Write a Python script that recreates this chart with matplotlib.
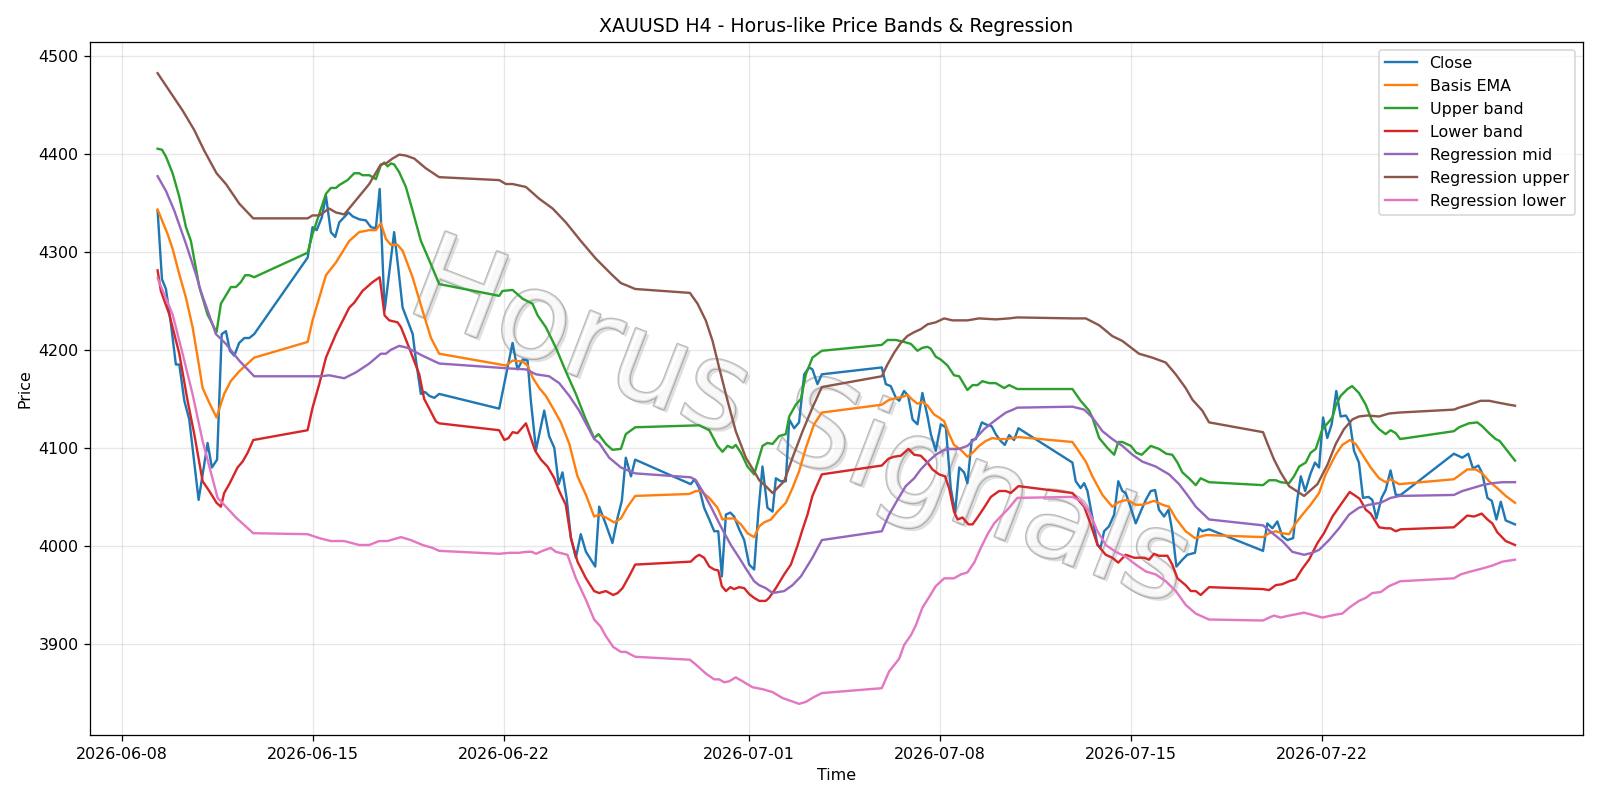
import pandas as pd
import matplotlib.pyplot as plt
import matplotlib.patheffects as pe

START = pd.Timestamp("2026-06-08")

close_days = [1.32, 1.48, 1.626, 1.81, 1.99, 2.115, 2.3, 2.48, 2.823, 3.153, 3.31, 3.5, 3.67, 3.825, 3.97, 4.13,
              4.31, 4.5, 4.68, 4.86, 6.82, 7.0, 7.15, 7.34, 7.49, 7.67, 7.83, 7.98, 8.32, 8.47, 8.71, 8.95,
              9.14, 9.32, 9.46, 9.64, 9.99, 10.15, 10.3, 10.48, 10.67, 10.79, 10.97, 11.12, 11.28, 11.46, 11.64,
              13.84, 14.33, 14.51, 14.7, 14.88, 15.0, 15.19, 15.49, 15.67, 15.86, 16.02, 16.16, 16.31, 16.47,
              16.65, 16.83, 17.02, 17.36, 17.505, 17.75, 17.99, 18.18, 18.335, 18.48, 18.67, 18.824, 20.86,
              21.0, 21.17, 21.35, 21.54, 21.72, 21.87, 22.0, 22.15, 22.31, 22.45, 22.635, 22.82, 23.0, 23.185,
              23.34, 23.49, 23.67, 23.86, 23.98, 24.16, 24.345, 24.47, 24.65, 24.83, 25.02, 25.2, 25.32, 25.505,
              25.665, 27.863, 28.01, 28.19, 28.38, 28.5, 28.68, 28.83, 28.99, 29.17, 29.35, 29.54, 29.66, 29.84,
              30.025, 30.21, 30.39, 30.55, 30.7, 30.88, 31.0, 31.16, 31.31, 31.53, 31.67, 31.89, 32.04, 32.22,
              32.37, 32.53, 32.71, 32.87, 34.85, 34.97, 35.15, 35.28, 35.4, 35.58, 35.77, 35.89, 36.01, 36.19,
              36.38, 36.53, 36.68, 36.8, 36.95, 37.17, 37.35, 37.54, 37.72, 37.88, 38.02, 38.21, 38.37, 38.51,
              38.66, 38.88, 39.06, 39.34, 39.49, 39.61, 39.857, 41.836, 41.99, 42.18, 42.36, 42.54, 42.73, 42.94,
              43.09, 43.22, 43.38, 43.58, 43.74, 43.89, 44.035, 44.19, 44.35, 44.52, 44.68, 44.87, 45.02, 45.17,
              45.35, 45.5, 45.7, 45.84, 45.99, 46.18, 46.33, 46.51, 46.7, 46.88, 48.83, 49.14, 49.36, 49.53,
              49.73, 49.87, 50.06, 50.22, 50.39, 50.55, 50.73, 51.07]
close_vals = [4342, 4272, 4262, 4226, 4185, 4185, 4148, 4129, 4047, 4105, 4080, 4088, 4216, 4219, 4199, 4194,
              4207, 4212, 4212, 4216, 4294, 4325, 4322, 4335, 4357, 4320, 4315, 4330, 4340, 4336, 4333, 4332,
              4325, 4324, 4364, 4240, 4320, 4281, 4243, 4230, 4216, 4189, 4155, 4157, 4153, 4151, 4155,
              4140, 4207, 4180, 4190, 4189, 4148, 4098, 4138, 4112, 4100, 4063, 4075, 4049, 4008,
              3988, 4012, 3994, 3979, 4040, 4022, 4003, 4029, 4046, 4090, 4071, 4088, 4063,
              4068, 4059, 4039, 4027, 4015, 4015, 3969, 4032, 4034, 4030, 4017, 4006, 3981, 3976,
              4035, 4081, 4039, 4035, 4069, 4066, 4066, 4129, 4120, 4126, 4175, 4182, 4180, 4165,
              4175, 4182, 4165, 4163, 4151, 4148, 4158, 4153, 4129, 4124, 4156, 4132, 4114, 4097,
              4124, 4121, 4059, 4034, 4080, 4075, 4064, 4108, 4109, 4126, 4124, 4122, 4114, 4107,
              4103, 4113, 4108, 4120, 4085, 4066, 4059, 4064, 4056, 4029, 4001, 3999, 4015, 4020,
              4032, 4066, 4056, 4054, 4042, 4023, 4035, 4047, 4056, 4057, 4037, 4030, 4037, 4015,
              3979, 3986, 3991, 3993, 4018, 4015, 4017, 3995, 4023, 4018, 4025, 4010, 4006, 4008,
              4047, 4071, 4056, 4074, 4085, 4080, 4131, 4110, 4124, 4158, 4132, 4133, 4126, 4097,
              4085, 4049, 4050, 4047, 4028, 4049, 4057, 4077, 4052, 4052, 4094, 4090, 4094, 4079,
              4082, 4074, 4049, 4046, 4027, 4045, 4026, 4022]

basis_days = [1.32, 1.687, 1.87, 2.115, 2.36, 2.603, 2.79, 2.97, 3.214, 3.48, 3.76, 4.0, 4.31, 4.86, 6.82, 7.0,
              7.49, 7.856, 8.345, 8.71, 9.08, 9.32, 9.5, 9.69, 9.87, 10.115, 10.3, 10.665, 11.03, 11.34, 11.64,
              14.085, 14.33, 14.7, 14.88, 15.06, 15.307, 15.55, 15.8, 16.1, 16.41, 16.71, 17.02, 17.32, 17.505,
              17.75, 18.055, 18.3, 18.545, 18.824, 20.8, 21.05, 21.23, 21.54, 21.84, 22.025, 22.21, 22.45, 22.7,
              22.94, 23.185, 23.37, 23.55, 23.8, 24.04, 24.345, 24.59, 24.83, 25.08, 25.38, 25.665, 27.863,
              28.13, 28.44, 28.62, 28.8, 28.99, 29.17, 29.35, 29.54, 29.78, 29.96, 30.15, 30.33, 30.51, 30.76,
              31.0, 31.19, 31.43, 31.67, 31.92, 32.16, 32.41, 32.65, 32.87, 34.85, 35.34, 35.58, 35.95, 36.31,
              36.56, 36.86, 37.17, 37.41, 37.84, 38.15, 38.39, 38.64, 39.0, 39.34, 39.73, 39.857, 41.836, 42.06,
              42.3, 42.54, 42.79, 43.03, 43.28, 43.58, 43.89, 44.13, 44.5, 44.74, 45.02, 45.23, 45.48, 45.78,
              46.09, 46.33, 46.51, 46.82, 48.83, 49.08, 49.32, 49.63, 49.87, 50.12, 50.42, 50.73, 51.07]
basis_vals = [4343, 4318, 4303, 4277, 4253, 4223, 4192, 4161, 4146, 4131, 4155, 4168, 4178, 4192, 4208, 4230,
              4276, 4289, 4311, 4320, 4322, 4322, 4329, 4313, 4307, 4307, 4301, 4274, 4240, 4212, 4196,
              4184, 4189, 4188, 4184, 4172, 4161, 4153, 4141, 4126, 4104, 4071, 4052, 4030, 4032,
              4029, 4024, 4028, 4040, 4051, 4053, 4056, 4056, 4049, 4039, 4027, 4028, 4028, 4022,
              4013, 4009, 4020, 4024, 4027, 4035, 4044, 4059, 4076, 4100, 4124, 4136, 4144,
              4149, 4151, 4152, 4154, 4149, 4145, 4147, 4143, 4134, 4131, 4127, 4114, 4103, 4098,
              4091, 4095, 4102, 4107, 4110, 4109, 4109, 4110, 4111, 4106, 4086, 4071, 4052, 4040,
              4045, 4047, 4042, 4042, 4046, 4042, 4040, 4028, 4015, 4008, 4011, 4011, 4009, 4013,
              4015, 4013, 4012, 4023, 4032, 4042, 4054, 4073, 4093, 4103, 4108, 4104, 4093, 4080,
              4069, 4065, 4068, 4063, 4068, 4073, 4078, 4078, 4074, 4066, 4059, 4051, 4044]

upper_days = [1.32, 1.48, 1.626, 1.87, 2.115, 2.36, 2.54, 2.85, 3.15, 3.48, 3.64, 4.008, 4.19, 4.37, 4.53, 4.68,
              4.86, 6.82, 7.0, 7.49, 7.67, 7.855, 7.98, 8.28, 8.527, 8.71, 8.83, 9.08, 9.32, 9.5, 9.63, 9.75,
              9.87, 9.99, 10.176, 10.42, 10.665, 10.97, 11.28, 11.64, 13.84, 13.96, 14.33, 14.7, 15.06, 15.25,
              15.55, 15.92, 16.28, 16.65, 17.0, 17.32, 17.48, 17.75, 17.99, 18.3, 18.48, 18.824, 21.17, 21.54,
              21.84, 22.025, 22.21, 22.39, 22.51, 22.7, 22.94, 23.185, 23.49, 23.67, 23.86, 24.1, 24.345, 24.47,
              24.71, 24.9, 25.08, 25.32, 25.665, 27.863, 28.07, 28.38, 28.68, 28.93, 29.17, 29.35, 29.54, 29.66,
              29.84, 30.025, 30.27, 30.51, 30.7, 31.0, 31.19, 31.37, 31.55, 31.8, 32.04, 32.35, 32.53, 32.83,
              34.85, 35.15, 35.46, 35.58, 35.83, 36.13, 36.38, 36.53, 36.68, 36.99, 37.19, 37.39, 37.54, 37.72,
              38.02, 38.29, 38.51, 38.7, 38.88, 39.12, 39.37, 39.55, 39.857, 41.836, 42.06, 42.3, 42.48, 42.79,
              42.97, 43.16, 43.4, 43.58, 43.77, 44.01, 44.23, 44.38, 44.5, 44.68, 44.93, 45.1, 45.35, 45.6,
              45.84, 46.09, 46.33, 46.51, 46.7, 46.86, 48.83, 49.02, 49.38, 49.69, 49.87, 50.12, 50.36, 50.51,
              50.79, 51.07]
upper_vals = [4405, 4404, 4397, 4380, 4356, 4325, 4311, 4264, 4236, 4218, 4247, 4264, 4264, 4269, 4276, 4276,
              4274, 4299, 4318, 4359, 4365, 4365, 4368, 4373, 4380, 4380, 4378, 4378, 4374, 4388, 4391, 4387,
              4390, 4389, 4381, 4366, 4342, 4311, 4291, 4267, 4255, 4260, 4261, 4252, 4247, 4235,
              4223, 4202, 4178, 4155, 4130, 4110, 4114, 4104, 4098, 4099, 4114, 4121, 4123, 4118,
              4102, 4096, 4102, 4100, 4103, 4095, 4081, 4073, 4102, 4105, 4104, 4112, 4114, 4132,
              4144, 4150, 4175, 4192, 4199, 4205, 4210, 4210, 4208, 4206, 4199, 4202, 4203, 4201,
              4193, 4190, 4184, 4174, 4173, 4159, 4164, 4164, 4168, 4166, 4166, 4161, 4164, 4160,
              4160, 4148, 4138, 4131, 4110, 4100, 4093, 4106, 4106, 4102, 4095, 4093, 4097, 4102,
              4099, 4094, 4093, 4085, 4075, 4069, 4062, 4069, 4065, 4062, 4067, 4067, 4065, 4064,
              4071, 4081, 4085, 4095, 4099, 4119, 4126, 4131, 4143, 4153, 4160, 4163, 4156, 4144,
              4127, 4119, 4114, 4118, 4115, 4109, 4117, 4121, 4125, 4126, 4122, 4115, 4109, 4107,
              4097, 4087]

lower_days = [1.32, 1.44, 1.75, 2.115, 2.42, 2.664, 2.97, 3.214, 3.48, 3.64, 3.76, 3.947, 4.25, 4.435, 4.62,
              4.826, 6.817, 7.0, 7.245, 7.49, 7.856, 8.345, 8.527, 8.83, 9.2, 9.46, 9.64, 9.81, 10.115, 10.24,
              10.54, 10.91, 11.09, 11.52, 11.64, 13.84, 14.03, 14.18, 14.33, 14.51, 14.82, 15.16, 15.37, 15.61,
              15.86, 16.04, 16.28, 16.47, 16.71, 17.02, 17.32, 17.5, 17.75, 18.02, 18.18, 18.36, 18.6, 18.824,
              20.86, 21.05, 21.17, 21.35, 21.54, 21.72, 21.87, 22.0, 22.15, 22.31, 22.45, 22.635, 22.82, 23.0,
              23.185, 23.37, 23.61, 23.73, 23.98, 24.285, 24.53, 24.77, 24.96, 25.14, 25.32, 25.505, 25.665,
              27.863, 28.11, 28.315, 28.56, 28.84, 29.05, 29.29, 29.54, 29.72, 29.96, 30.18, 30.33, 30.51, 30.64,
              30.82, 31.04, 31.19, 31.37, 31.61, 31.86, 32.16, 32.41, 32.59, 32.87, 34.85, 35.28, 35.52, 35.77,
              36.07, 36.31, 36.53, 36.8, 37.11, 37.48, 37.66, 37.84, 38.02, 38.33, 38.51, 38.7, 39.0, 39.19,
              39.37, 39.55, 39.857, 41.836, 42.06, 42.3, 42.54, 42.79, 43.03, 43.28, 43.52, 43.83, 44.07, 44.38,
              44.68, 45.01, 45.23, 45.38, 45.6, 45.78, 46.09, 46.33, 46.51, 46.7, 46.88, 48.83, 49.08, 49.32,
              49.57, 49.85, 50.06, 50.24, 50.42, 50.73, 51.07]
lower_vals = [4281, 4260, 4236, 4196, 4148, 4114, 4066, 4056, 4044, 4040, 4054, 4063, 4080, 4086, 4095,
              4108, 4118, 4141, 4165, 4192, 4216, 4243, 4248, 4260, 4269, 4274, 4235, 4230, 4228, 4223,
              4202, 4175, 4150, 4127, 4125, 4118, 4108, 4110, 4116, 4115, 4125, 4097, 4088, 4081,
              4069, 4056, 4042, 4008, 3984, 3967, 3954, 3952, 3954, 3950, 3952, 3957, 3969, 3981,
              3984, 3989, 3991, 3988, 3979, 3976, 3975, 3959, 3954, 3958, 3956, 3958, 3957, 3951,
              3947, 3944, 3944, 3947, 3957, 3971, 3981, 4000, 4017, 4032, 4051, 4063, 4073,
              4082, 4089, 4091, 4092, 4099, 4093, 4092, 4085, 4078, 4073, 4071, 4059, 4035, 4027,
              4029, 4022, 4022, 4029, 4039, 4050, 4056, 4056, 4054, 4061, 4054, 4040, 4022, 4001,
              3991, 3988, 3983, 3991, 3988, 3988, 3986, 3992, 3990, 3990, 3981, 3967, 3960, 3954,
              3954, 3950, 3958, 3956, 3955, 3960, 3961, 3964, 3966, 3977, 3986, 4003, 4013, 4030,
              4042, 4055, 4051, 4048, 4037, 4033, 4019, 4018, 4018, 4015, 4017, 4019, 4025, 4031,
              4030, 4033, 4027, 4023, 4014, 4005, 4001]

reg_mid_days = [1.32, 1.626, 1.93, 2.36, 2.725, 2.9, 3.458, 3.825, 4.31, 4.86, 6.82, 7.3, 7.61, 8.16, 8.59,
                9.08, 9.5, 9.69, 9.87, 10.176, 10.48, 11.03, 11.64, 14.21, 14.82, 15.19, 15.67, 16.04, 16.41,
                16.77, 17.32, 17.505, 17.87, 18.3, 18.824, 20.86, 21.05, 21.29, 21.6, 21.96, 22.33, 22.635,
                22.88, 23.185, 23.37, 23.61, 23.86, 24.285, 24.59, 24.9, 25.32, 25.665, 27.863, 28.13, 28.44,
                28.74, 29.05, 29.29, 29.6, 29.84, 30.15, 30.45, 30.7, 31.0, 31.31, 31.61, 31.92, 32.16, 32.41,
                32.59, 32.83, 34.85, 35.28, 35.58, 35.95, 36.31, 36.68, 37.05, 37.41, 37.9, 38.39, 38.76, 39.06,
                39.37, 39.857, 41.836, 42.18, 42.54, 42.91, 43.34, 43.64, 43.89, 44.255, 44.62, 44.99, 45.35,
                45.72, 46.15, 46.51, 46.86, 48.83, 49.14, 49.51, 49.87, 50.24, 50.61, 51.07]
reg_mid_vals = [4377, 4362, 4342, 4308, 4277, 4260, 4216, 4206, 4189, 4173, 4173, 4173, 4174, 4171, 4177,
                4186, 4196, 4196, 4200, 4204, 4202, 4194, 4186, 4181, 4180, 4175, 4173, 4166, 4153,
                4138, 4109, 4105, 4090, 4080, 4074, 4070, 4067, 4056, 4040, 4020, 4001, 3988,
                3977, 3964, 3960, 3957, 3952, 3954, 3960, 3969, 3988, 4006, 4015, 4032, 4047,
                4061, 4069, 4078, 4087, 4093, 4098, 4099, 4099, 4102, 4110, 4119, 4126, 4131, 4136,
                4138, 4141, 4142, 4139, 4131, 4117, 4109, 4102, 4093, 4086, 4081, 4073, 4063, 4052,
                4040, 4027, 4021, 4013, 4005, 3994, 3991, 3993, 3996, 4006, 4018, 4032, 4039,
                4042, 4044, 4049, 4051, 4052, 4056, 4059, 4062, 4064, 4065, 4065]

reg_up_days = [1.32, 2.236, 2.664, 3.03, 3.48, 3.825, 4.313, 4.826, 6.817, 7.0, 7.245, 7.61, 7.856, 8.16,
               9.077, 9.5, 9.69, 9.93, 10.176, 10.42, 10.726, 11.153, 11.64, 13.84, 14.085, 14.33, 14.82,
               15.307, 15.8, 16.28, 16.83, 17.38, 17.99, 18.3, 18.48, 18.824, 20.83, 21.11, 21.41, 21.66,
               21.9, 22.21, 22.51, 22.88, 23.185, 23.37, 23.61, 23.86, 24.285, 24.59, 24.96, 25.32, 25.665,
               27.863, 28.07, 28.315, 28.56, 28.8, 29.05, 29.29, 29.54, 29.84, 30.15, 30.45, 31.0, 31.43,
               32.04, 32.53, 32.83, 34.85, 35.34, 35.83, 36.31, 36.68, 37.29, 37.78, 38.27, 38.635, 39.0,
               39.25, 39.61, 39.857, 41.836, 41.99, 42.24, 42.48, 42.79, 43.34, 43.83, 44.2, 44.5, 44.8,
               45.11, 45.35, 45.66, 46.09, 46.45, 46.82, 48.83, 49.02, 49.38, 49.81, 50.12, 50.48, 50.85, 51.07]
reg_up_vals = [4482, 4444, 4424, 4403, 4380, 4369, 4349, 4334, 4334, 4337, 4337, 4344, 4340, 4338,
               4369, 4389, 4390, 4395, 4399, 4398, 4395, 4385, 4376, 4373, 4369, 4369, 4366,
               4354, 4344, 4330, 4311, 4293, 4276, 4268, 4266, 4262, 4258, 4247, 4230, 4209,
               4182, 4148, 4117, 4090, 4076, 4067, 4061, 4054, 4066, 4090, 4117, 4141, 4162,
               4173, 4185, 4197, 4207, 4214, 4218, 4221, 4226, 4228, 4232, 4230, 4230, 4232,
               4231, 4232, 4233, 4232, 4232, 4225, 4214, 4209, 4196, 4192, 4187, 4175, 4161,
               4149, 4138, 4126, 4116, 4105, 4088, 4075, 4061, 4051, 4063, 4083, 4104, 4119,
               4129, 4132, 4133, 4132, 4135, 4136, 4139, 4141, 4144, 4148, 4148, 4146, 4144, 4143]

reg_low_days = [1.32, 1.87, 2.236, 2.6, 2.97, 3.52, 3.825, 4.19, 4.826, 6.817, 7.245, 7.67, 8.16, 8.71, 9.08,
                9.44, 9.75, 10.24, 10.6, 11.03, 11.4, 11.64, 13.84, 14.21, 14.57, 14.82, 15.04, 15.19, 15.43,
                15.73, 15.92, 16.34, 16.65, 17.02, 17.32, 17.55, 17.75, 18.02, 18.3, 18.48, 18.824, 20.83,
                21.05, 21.41, 21.72, 21.9, 22.085, 22.27, 22.51, 22.76, 23.12, 23.49, 23.86, 24.22, 24.53,
                24.83, 25.08, 25.38, 25.665, 27.863, 28.13, 28.5, 28.68, 28.93, 29.11, 29.35, 29.6, 29.84,
                30.15, 30.51, 30.76, 31.0, 31.25, 31.49, 31.74, 31.98, 32.22, 32.47, 32.83, 34.85, 35.15,
                35.46, 35.77, 36.07, 36.44, 36.8, 37.17, 37.54, 37.9, 38.27, 38.64, 39.0, 39.37, 39.857,
                41.836, 42.06, 42.24, 42.48, 42.79, 43.34, 44.01, 44.5, 44.74, 44.99, 45.35, 45.6, 45.84,
                46.15, 46.45, 46.7, 46.86, 48.83, 49.08, 49.45, 49.87, 50.24, 50.61, 51.07]
reg_low_vals = [4273, 4236, 4196, 4155, 4107, 4049, 4040, 4029, 4013, 4012, 4008, 4005, 4005, 4001, 4001,
                4005, 4005, 4009, 4006, 4001, 3998, 3995, 3992, 3993, 3993, 3994, 3994, 3992, 3995,
                3998, 3994, 3991, 3967, 3945, 3925, 3918, 3908, 3897, 3892, 3892, 3887, 3884,
                3879, 3870, 3864, 3864, 3861, 3862, 3866, 3862, 3856, 3854, 3851, 3845, 3842,
                3839, 3841, 3846, 3850, 3855, 3872, 3885, 3899, 3909, 3919, 3937, 3948, 3959,
                3967, 3967, 3971, 3973, 3983, 3998, 4012, 4023, 4030, 4037, 4049, 4050, 4046,
                4035, 4015, 4001, 3994, 3989, 3981, 3974, 3971, 3964, 3954, 3940, 3931, 3925,
                3924, 3927, 3929, 3927, 3929, 3932, 3927, 3930, 3931, 3937, 3944, 3947, 3952,
                3953, 3959, 3962, 3964, 3967, 3971, 3974, 3977, 3980, 3984, 3986]


def to_time(days):
    return START + pd.to_timedelta(days, unit="D")


fig, ax = plt.subplots(figsize=(14, 7), dpi=1600 / 14)

ax.plot(to_time(close_days), close_vals, label="Close")
ax.plot(to_time(basis_days), basis_vals, label="Basis EMA")
ax.plot(to_time(upper_days), upper_vals, label="Upper band")
ax.plot(to_time(lower_days), lower_vals, label="Lower band")
ax.plot(to_time(reg_mid_days), reg_mid_vals, label="Regression mid")
ax.plot(to_time(reg_up_days), reg_up_vals, label="Regression upper")
ax.plot(to_time(reg_low_days), reg_low_vals, label="Regression lower")

ax.set_title("XAUUSD H4 - Horus-like Price Bands & Regression")
ax.set_xlabel("Time")
ax.set_ylabel("Price")
ax.grid(True, alpha=0.3)
ax.legend(loc="upper right")

# watermark, behind the lines
ax.text(0.5, 0.467, "Horus Signals", transform=fig.transFigure, fontsize=76,
        color="white", alpha=0.55, rotation=-21, ha="center", va="center", zorder=1,
        path_effects=[pe.SimplePatchShadow(offset=(2, -2), shadow_rgbFace="gray", alpha=0.25),
                      pe.withStroke(linewidth=1.5, foreground="gray")])

plt.tight_layout()
plt.savefig("out.png", dpi=fig.dpi)
